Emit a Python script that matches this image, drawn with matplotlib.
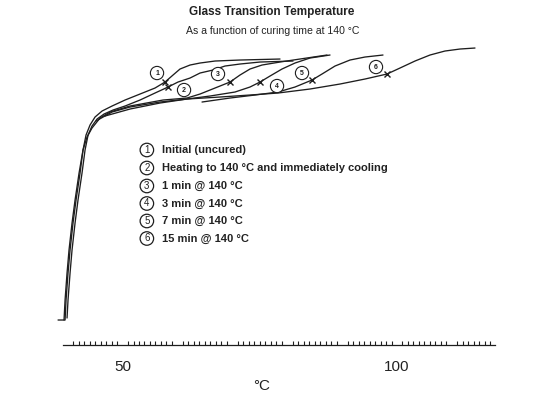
import matplotlib.pyplot as plt

plt.rcParams['font.family'] = ['Liberation Sans', 'DejaVu Sans']

# DSC traces: temperature (°C) vs. heat flow signal (arbitrary units)
temp_1 = [38.25, 39.53, 39.71, 40.07, 40.44, 40.98, 41.53, 42.26, 42.80, 43.35, 44.08, 44.99,
          46.27, 48.09, 50.46, 53.19, 55.92, 57.74, 59.20, 60.47, 62.30, 64.12, 66.85, 71.40, 78.69]
sig_1 = [2.5, 2.5, 4.5, 7.2, 9.5, 12.2, 14.5, 17.2, 19.5, 21.0, 22.0, 22.8,
         23.4, 23.9, 24.5, 25.1, 25.7, 26.3, 27.0, 27.6, 28.0, 28.2, 28.4, 28.5, 28.6]

temp_2 = [39.89, 40.07, 40.44, 40.80, 41.35, 41.89, 42.62, 43.17, 43.72, 44.44, 45.36, 46.63,
          48.27, 50.46, 53.19, 55.92, 58.29, 60.11, 62.30, 64.12, 66.48, 68.67, 71.40, 75.05, 81.06]
sig_2 = [2.7, 4.5, 7.2, 9.5, 12.2, 14.5, 17.2, 19.5, 21.0, 21.9, 22.6, 23.1,
         23.5, 23.9, 24.5, 25.2, 25.8, 26.3, 26.7, 27.2, 27.5, 27.9, 28.1, 28.3, 28.4]

temp_3 = [39.34, 39.53, 39.89, 40.25, 40.80, 41.35, 42.08, 42.80, 43.53, 44.44, 45.90, 47.72,
          51.37, 57.38, 61.75, 64.12, 66.85, 69.58, 71.40, 73.22, 75.41, 78.69, 82.33, 87.25]
sig_3 = [2.5, 4.5, 7.2, 9.5, 12.2, 14.5, 17.2, 19.5, 20.8, 21.7, 22.7, 23.3,
         23.9, 24.5, 24.7, 25.1, 25.7, 26.3, 27.0, 27.6, 28.0, 28.3, 28.6, 29.0]

temp_4 = [45.17, 48.09, 51.37, 56.83, 61.75, 65.94, 70.49, 73.22, 75.05, 76.87, 79.05, 81.42, 84.15, 87.80]
sig_4 = [22.4, 23.3, 23.8, 24.3, 24.6, 24.9, 25.3, 25.8, 26.3, 26.9, 27.6, 28.2, 28.7, 29.0]

temp_5 = [64.48, 69.58, 74.14, 78.32, 81.42, 84.52, 86.34, 88.71, 91.44, 94.17, 97.45]
sig_5 = [24.3, 24.7, 25.0, 25.3, 25.8, 26.5, 27.1, 27.9, 28.5, 28.8, 29.0]

temp_6 = [46.81, 51.37, 56.83, 61.75, 67.76, 73.22, 78.32, 84.15, 89.62, 94.17, 98.18,
          100.55, 103.28, 106.01, 108.74, 111.48, 114.21]
sig_6 = [22.9, 23.6, 24.2, 24.6, 24.8, 25.0, 25.2, 25.6, 26.1, 26.6, 27.1,
         27.7, 28.4, 29.0, 29.4, 29.6, 29.7]

# glass transition midpoints (marked with a cross)
tg_temp = [57.74, 58.29, 69.58, 75.05, 84.52, 98.18]
tg_signal = [26.3, 25.8, 26.3, 26.3, 26.5, 27.1]
label_offsets = [(-8, 9), (16, -3), (-12, 8), (17, -4), (-10, 7), (-11, 7)]

curve_ids = ['1', '2', '3', '4', '5', '6']
legend_labels = ['Initial (uncured)',
                 'Heating to 140 °C and immediately cooling',
                 '1 min @ 140 °C',
                 '3 min @ 140 °C',
                 '7 min @ 140 °C',
                 '15 min @ 140 °C']

ink = '#1e1e1e'

fig = plt.figure(figsize=(5.48, 3.93), dpi=100)
ax = fig.add_axes([0.0984, 0.1221, 0.8414, 0.8015])

for t, s in [(temp_1, sig_1), (temp_2, sig_2), (temp_3, sig_3),
             (temp_4, sig_4), (temp_5, sig_5), (temp_6, sig_6)]:
    ax.plot(t, s, color=ink, lw=0.95, solid_capstyle='round')

ax.plot(tg_temp, tg_signal, ls='none', marker='x', ms=3.8, mew=1.0, color=ink)

for tx, ty, cid, off in zip(tg_temp, tg_signal, curve_ids, label_offsets):
    ax.annotate(cid, (tx, ty), xytext=off, textcoords='offset pixels',
                ha='center', va='center', fontsize=5, fontweight='bold', color=ink,
                bbox=dict(boxstyle='circle,pad=0.45', fc='white', ec=ink, lw=0.8))

ax.set_xlim(37.5, 121.5)
ax.set_ylim(0, 31.5)

for side in ['left', 'right', 'top']:
    ax.spines[side].set_visible(False)
ax.spines['bottom'].set_bounds(39.2, 117.85)
ax.spines['bottom'].set_linewidth(0.9)
ax.spines['bottom'].set_color(ink)
ax.set_yticks([])

ax.set_xticks([50, 100])
ax.set_xticks([v for v in range(40, 118) if v % 10 != 0], minor=True)
ax.tick_params(axis='x', which='major', length=0, pad=11, labelsize=11, colors='#222222')
ax.tick_params(axis='x', which='minor', direction='in', length=3, width=0.8, color=ink)

ax.set_xlabel('°C', fontsize=11, color='#222222')
ax.xaxis.set_label_coords(0.451, -0.108)

fig.text(0.496, 0.9695, 'Glass Transition Temperature', ha='center', va='center',
         fontsize=8.5, fontweight='bold', color='#222222')
fig.text(0.497, 0.921, 'As a function of curing time at 140 °C', ha='center', va='center',
         fontsize=7.6, color='#222222')

row_y = [150, 168, 186, 203.5, 221, 238.5]
for cid, lab, yp in zip(curve_ids, legend_labels, row_y):
    yf = 1 - yp / 393
    fig.text(0.2680, yf, cid, ha='center', va='center', fontsize=7, color='#222222',
             bbox=dict(boxstyle='circle,pad=0.18', fc='white', ec=ink, lw=0.9))
    fig.text(0.2955, yf, lab, ha='left', va='center', fontsize=8, fontweight='bold',
             color='#222222')

fig.savefig('out.png', dpi=100)
